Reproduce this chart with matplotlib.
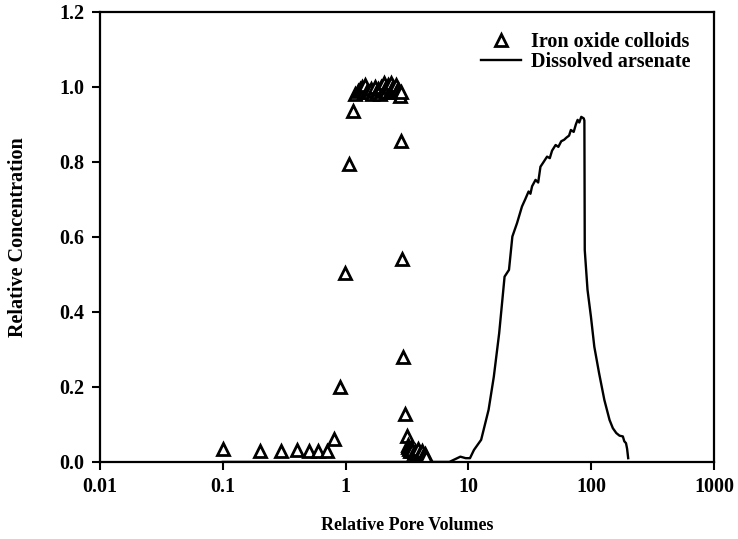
import matplotlib
matplotlib.use("Agg")
import matplotlib.pyplot as plt

plt.rcParams["font.family"] = ["Liberation Serif", "DejaVu Serif"]
plt.rcParams["font.weight"] = "bold"

# iron oxide colloids (triangles)
colloid_pv = [0.1, 0.2, 0.3, 0.4, 0.5, 0.6, 0.7, 0.8, 0.9, 0.98, 1.07, 1.15,
              1.2, 1.25, 1.3, 1.35, 1.4, 1.45, 1.5, 1.55, 1.6, 1.65, 1.7, 1.75,
              1.8, 1.85, 1.9, 1.95, 2.0, 2.05, 2.1, 2.15, 2.2, 2.25, 2.3, 2.35,
              2.4, 2.45, 2.5, 2.55, 2.6, 2.65, 2.7, 2.75, 2.8,
              2.8, 2.9, 2.95, 3.05, 3.15,
              3.2, 3.25, 3.3, 3.35, 3.4, 3.45, 3.5, 3.6, 3.7, 3.8, 3.9, 4.0,
              4.1, 4.2, 4.3, 4.4, 4.5]
colloid_c = [0.035, 0.03, 0.03, 0.033, 0.03, 0.03, 0.03, 0.062, 0.2, 0.505, 0.795, 0.935,
             0.98, 0.99, 0.995, 1.0, 0.985, 1.005, 0.99, 0.985, 0.995, 0.98, 0.99, 1.0,
             0.985, 0.995, 0.98, 1.0, 0.99, 1.01, 0.995, 0.985, 1.005, 1.0, 0.99, 1.01,
             0.995, 1.0, 0.985, 1.005, 0.99, 0.995, 0.985, 0.975, 0.985,
             0.855, 0.54, 0.28, 0.128, 0.068,
             0.045, 0.04, 0.035, 0.03, 0.038, 0.028, 0.033, 0.025, 0.03, 0.02, 0.035, 0.025,
             0.02, 0.03, 0.015, 0.02, 0.012]

# dissolved arsenate (line)
arsenate_pv = [0.1, 1.0, 5.0, 7.0, 8.6, 9.5, 10.3, 11.1, 12.7, 14.6, 16.1, 17.8,
               18.9, 19.7, 21.4, 22.8, 24.9, 27.3, 29.0, 30.9, 32.0, 33.0, 35.2,
               37.0, 38.6, 41.0, 43.7, 46.0, 48.0, 51.3, 54.0, 57.0, 60.2, 63.0,
               66.0, 68.3, 72.0, 75.0, 77.5, 80.0, 83.0, 86.9,
               88.0, 88.6, 93.3, 99.5, 106, 116, 128, 141, 150, 160, 170, 181,
               186, 192, 196, 200]
arsenate_c = [0.0, 0.0, 0.0, 0.0, 0.014, 0.01, 0.01, 0.032, 0.059, 0.139, 0.227, 0.343,
              0.432, 0.494, 0.512, 0.601, 0.637, 0.681, 0.70, 0.721, 0.715, 0.735, 0.752,
              0.745, 0.787, 0.80, 0.814, 0.81, 0.83, 0.845, 0.84, 0.855, 0.859, 0.865,
              0.87, 0.885, 0.88, 0.90, 0.912, 0.905, 0.92, 0.916,
              0.91, 0.565, 0.459, 0.387, 0.307, 0.236, 0.165, 0.112, 0.09, 0.077, 0.07, 0.068,
              0.055, 0.05, 0.035, 0.01]

fig = plt.figure(figsize=(7.38, 5.39), dpi=100)
ax = fig.add_axes([0.1355, 0.143, 0.832, 0.835])

ax.plot(arsenate_pv, arsenate_c, color="black", lw=1.7, label="Dissolved arsenate")
ax.plot(colloid_pv, colloid_c, ls="none", marker="^", ms=8, mfc="white",
        mec="black", mew=2.0, label="Iron oxide colloids")

ax.set_xscale("log")
ax.set_xlim(0.01, 1000)
ax.set_ylim(0, 1.2)
ax.set_xticks([0.01, 0.1, 1, 10, 100, 1000])
ax.set_xticklabels(["0.01", "0.1", "1", "10", "100", "1000"])
ax.xaxis.set_minor_locator(matplotlib.ticker.NullLocator())
ax.set_yticks([0.0, 0.2, 0.4, 0.6, 0.8, 1.0, 1.2])
ax.set_yticklabels(["0.0", "0.2", "0.4", "0.6", "0.8", "1.0", "1.2"])
ax.tick_params(direction="out", length=6, width=1.5, labelsize=14.5, pad=5)
for s in ax.spines.values():
    s.set_linewidth(1.6)

ax.set_xlabel("Relative Pore Volumes", fontsize=13, fontweight="bold", labelpad=14)
ax.set_ylabel("Relative Concentration", fontsize=14.5, fontweight="bold", labelpad=23)

h, l = ax.get_legend_handles_labels()
ax.legend(h[::-1], l[::-1], loc="upper right", frameon=False, fontsize=14.5,
          handlelength=2.0, handletextpad=0.5, labelspacing=0.0,
          bbox_to_anchor=(0.992, 0.995))

fig.savefig("out.png", dpi=100)
